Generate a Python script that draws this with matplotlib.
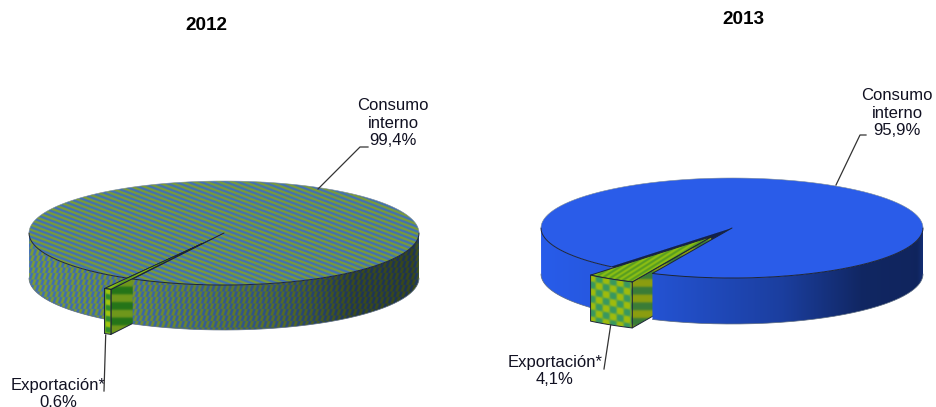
import numpy as np
import matplotlib
matplotlib.use('Agg')
import matplotlib.pyplot as plt
from matplotlib.patches import PathPatch
from matplotlib.path import Path

plt.rcParams['font.family'] = ['Liberation Sans', 'DejaVu Sans']

# chart data
years = ['2012', '2013']
consumo = [99.4, 95.9]
exportacion = [0.6, 4.1]
consumo_labels = ['Consumo\ninterno\n99,4%', 'Consumo\ninterno\n95,9%']
exportacion_labels = ['Exportación*\n0.6%', 'Exportación*\n4,1%']

BLUE = np.array([0x2a, 0x5c, 0xea]) / 255
GREEN_A = np.array([0x80, 0xa0, 0x2c]) / 255
BLUE_B = np.array([0x3c, 0x6c, 0xc0]) / 255


def mix(a, b, m):
    return a[None, None, :] * (1 - m[..., None]) + b[None, None, :] * m[..., None]


def stripes(xx, yy, ax_, by, period, sharp=2.0):
    return 0.5 + 0.5 * np.tanh(sharp * np.sin(2 * np.pi * (ax_ * xx + by * yy) / period))


def checks(xx, yy, period, sharp=3.0):
    s = np.sin(2 * np.pi * xx / period) * np.sin(2 * np.pi * (yy - 0.18 * xx) / period)
    return 0.5 + 0.5 * np.tanh(sharp * s)


def grid(box):
    x0, x1, y0, y1 = box
    return np.meshgrid(np.arange(x0, x1, 0.5), np.arange(y0, y1, 0.5))


def paint(ax, rgb, box, pts, zorder):
    x0, x1, y0, y1 = box
    im = ax.imshow(np.clip(rgb, 0, 1), extent=(x0, x1, y1, y0), origin='upper',
                   aspect='auto', interpolation='bilinear', zorder=zorder)
    patch = PathPatch(Path(pts), transform=ax.transData, fc='none', ec='none')
    ax.add_patch(patch)
    im.set_clip_path(patch)


def outline(ax, pts, zorder, color='#1c2438', lw=0.7):
    ax.plot(pts[:, 0], pts[:, 1], color=color, lw=lw, zorder=zorder,
            solid_capstyle='round', solid_joinstyle='round')


def draw_pie(ax, i, cx, cy, rx, ry, depth, mid_deg, explode):
    # angles measured clockwise on screen, from the right side of the ellipse
    extent = exportacion[i] / (consumo[i] + exportacion[i]) * 360
    t_a = np.radians(mid_deg - extent / 2)
    t_b = np.radians(mid_deg + extent / 2)
    t_m = np.radians(mid_deg)

    def arc(t0, t1, dx=0, dy=0, n=200):
        t = np.linspace(t0, t1, n)
        return np.column_stack([cx + dx + rx * np.cos(t), cy + dy + ry * np.sin(t)])

    box = (cx - rx - 4, cx + rx + 4, cy - ry - 4, cy + ry + depth + 4)
    xx, yy = grid(box)
    shade = np.interp(xx, [cx - rx, cx - 90, cx + 50, cx + 130, cx + rx - 6, cx + rx],
                      [1.0, 0.92, 0.68, 0.42, 0.40, 0.5])

    if i == 0:
        top_rgb = mix(GREEN_A, BLUE_B, stripes(xx, yy, 1, -2.6, 12.5))
        side_m = stripes(xx + 0.5 * np.round(yy / 6) * 6, yy, 1, 0.35, 5.5)
        side_rgb = mix(GREEN_A, BLUE_B, side_m) * (shade[..., None] * 0.9 + 0.1)
    else:
        top_rgb = np.ones(xx.shape + (3,)) * BLUE
        side_rgb = np.ones(xx.shape + (3,)) * BLUE * shade[..., None]
        side_rgb[..., 0] *= 0.95

    # slice geometry
    sx = explode * rx * np.cos(t_m)
    sy = explode * ry * np.sin(t_m)
    tip = np.array([cx + sx, cy + sy])
    slice_arc = arc(t_a, t_b, sx, sy, 30)
    right = slice_arc[0]
    left = slice_arc[-1]

    # main pie left side goes behind the slice
    top_edge = arc(t_b, np.pi)
    bottom_edge = arc(np.pi, t_b, 0, depth)
    paint(ax, side_rgb, box, np.vstack([top_edge, bottom_edge, top_edge[:1]]), 1.5)
    outline(ax, bottom_edge, 1.6, '#5a6a80', 0.5)

    # dark gap left in the main pie
    gap = np.vstack([[cx, cy], arc(t_a, t_b, n=30), [cx, cy]])
    ax.fill(gap[:, 0], gap[:, 1], color='#12224e' if i else '#14381a', zorder=2)

    # slice right wall, the main top covers what is hidden
    wall = np.array([tip, right, right + [0, depth], tip + [0, depth], tip])
    bx = (right[0] - 2, tip[0] + 2, tip[1] - 2, right[1] + depth + 2)
    wx, wy = grid(bx)
    bands = stripes(wx, wy, 0, 1, 15.5, 2.5)
    wall_rgb = mix(np.array([0x3a, 0x7c, 0x38]) / 255, np.array([0x8c, 0x9e, 0x10]) / 255, bands)
    if i == 0:
        wall_rgb = mix(np.array([0x24, 0x74, 0x18]) / 255, np.array([0x70, 0x98, 0x1c]) / 255, bands)
    paint(ax, wall_rgb, bx, wall, 3)
    outline(ax, wall, 3.1)

    # main pie right side
    top_edge = arc(0, t_a)
    bottom_edge = arc(t_a, 0, 0, depth)
    paint(ax, side_rgb, box, np.vstack([top_edge, bottom_edge, top_edge[:1]]), 4)
    outline(ax, bottom_edge, 4.2, '#5a6a80', 0.5)

    # main pie top
    top = np.vstack([[cx, cy], arc(t_b, t_a + 2 * np.pi, n=400), [cx, cy]])
    paint(ax, top_rgb, box, top, 5)
    outline(ax, arc(t_b, np.pi), 5.1)
    outline(ax, arc(0, t_a), 5.1)
    outline(ax, np.array([[cx, cy], arc(t_a, t_a, n=1)[0]]), 5.1)
    outline(ax, arc(np.pi, 2 * np.pi), 5.1, '#7a8a98', 0.4)

    # slice top
    slice_top = np.vstack([tip, slice_arc, tip])
    bx = (left[0] - 2, tip[0] + 2, tip[1] - 2, max(left[1], right[1]) + 4)
    wx, wy = grid(bx)
    rgb = mix(np.array([0x56, 0x9c, 0x22]) / 255, np.array([0x8e, 0xc0, 0x12]) / 255,
              stripes(wx, wy, 1, 1.6, 8))
    paint(ax, rgb, bx, slice_top, 6)
    outline(ax, slice_top, 6.1)

    # slice front
    front = np.vstack([slice_arc, slice_arc[::-1] + [0, depth], slice_arc[:1]])
    bx = (left[0] - 2, right[0] + 2, min(left[1], right[1]) - 2, max(left[1], right[1]) + depth + 4)
    wx, wy = grid(bx)
    if i == 0:
        rgb = mix(np.array([0x2c, 0x8c, 0x2c]) / 255, np.array([0xa2, 0xc4, 0x10]) / 255,
                  checks(wx, wy, 11))
    else:
        rgb = mix(np.array([0x38, 0x98, 0x60]) / 255, np.array([0xa0, 0xbc, 0x0c]) / 255,
                  checks(wx, wy, 14))
    paint(ax, rgb, bx, front, 7)
    outline(ax, front, 7.1)


fig = plt.figure(figsize=(9.37, 4.07), dpi=100, facecolor='white')
ax = fig.add_axes([0, 0, 1, 1])

draw_pie(ax, 0, 224, 233, 195, 52, 45, 119, 0.23)
draw_pie(ax, 1, 732, 228, 191, 50, 46, 122, 0.2)

ax.text(206, 26, years[0], fontsize=13.6, fontweight='bold', ha='center', va='center', color='black')
ax.text(743, 20, years[1], fontsize=13.6, fontweight='bold', ha='center', va='center', color='black')

ax.text(393, 123, consumo_labels[0], fontsize=12, ha='center', va='center', linespacing=1.22, color='#111122')
ax.text(897, 113, consumo_labels[1], fontsize=12, ha='center', va='center', linespacing=1.22, color='#111122')
ax.text(58, 394, exportacion_labels[0], fontsize=12, ha='center', va='center', linespacing=1.22, color='#111122')
ax.text(555, 371, exportacion_labels[1], fontsize=12, ha='center', va='center', linespacing=1.22, color='#111122')

# leader lines
ax.plot([318, 360, 368], [189, 147, 147], color='#333333', lw=0.9, zorder=8)
ax.plot([836, 860, 866], [185, 135, 135], color='#333333', lw=0.9, zorder=8)
ax.plot([105.7, 104], [335, 391], color='#333333', lw=0.9, zorder=8)
ax.plot([610.7, 604], [325, 369], color='#333333', lw=0.9, zorder=8)

ax.set_xlim(0, 937)
ax.set_ylim(407, 0)
ax.axis('off')

plt.savefig('out.png', dpi=100, facecolor='white')
